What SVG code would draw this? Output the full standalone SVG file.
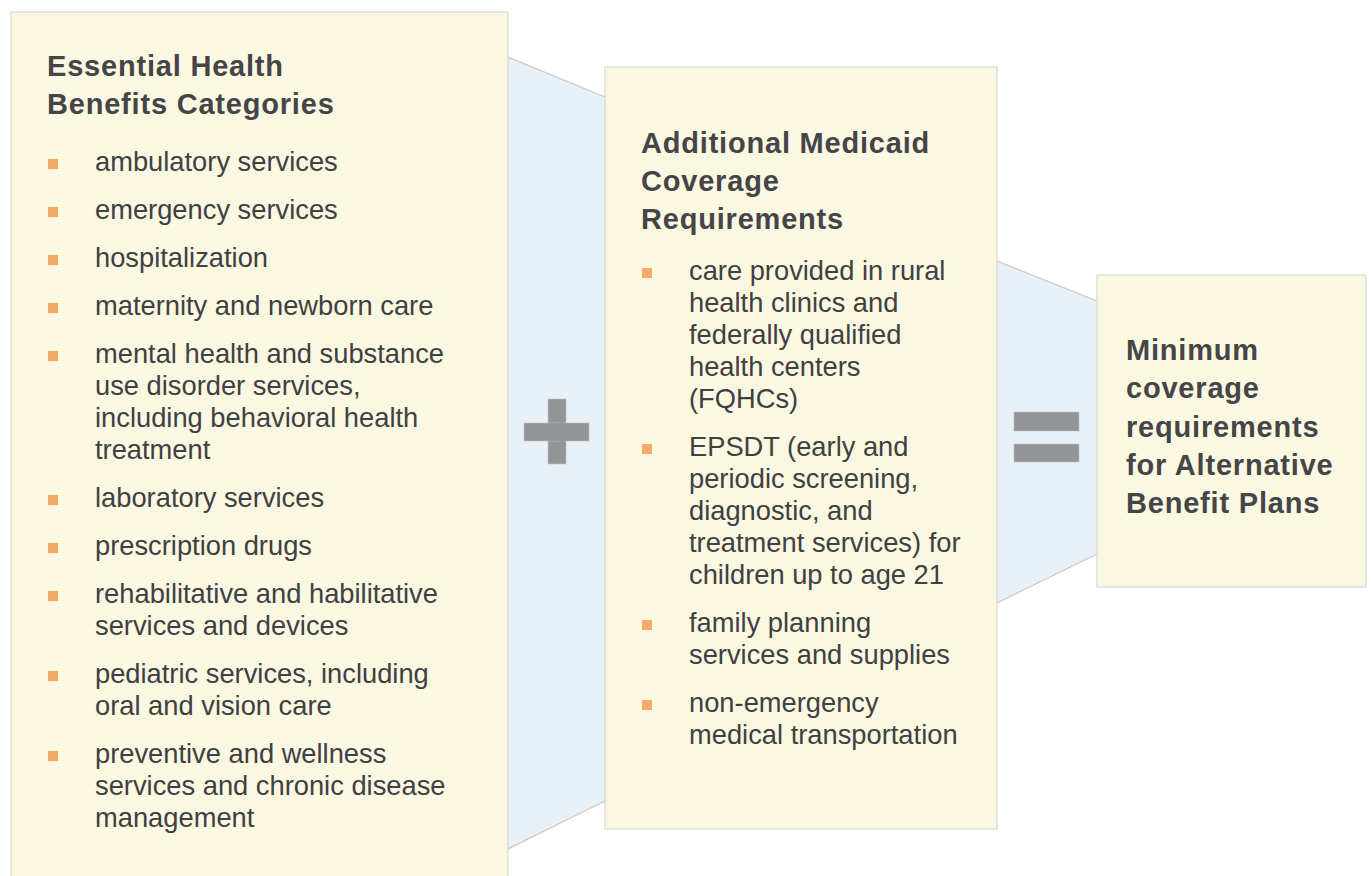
<svg xmlns="http://www.w3.org/2000/svg" width="1371" height="876" viewBox="0 0 1371 876">
<style>
.box{fill:#FBF8E2;stroke:#DAD8CE;stroke-width:1.2}
.band{fill:#E9F1F8;stroke:none}
.edge{stroke:#C6C7C9;stroke-width:1.2;fill:none}
.op{fill:#939598;stroke:#BFC0C3;stroke-width:0.6}
.bul{fill:#F3AB68}
.t{font-family:"Liberation Sans",Arial,Helvetica,sans-serif;fill:#404043}
.h{font-size:29px;font-weight:bold;letter-spacing:0.8px;fill:#454548}
.i{font-size:27.3px}
</style>
<rect width="1371" height="876" fill="#FFFFFF"/>
<g id="connectors">
<polygon class="band" points="508,57 605,97 605,801 508,849"/>
<line class="edge" x1="508" y1="57" x2="605" y2="97"/>
<line class="edge" x1="508" y1="849" x2="605" y2="801"/>
<polygon class="band" points="997,261 1097,301 1097,554 997,603"/>
<line class="edge" x1="997" y1="261" x2="1097" y2="301"/>
<line class="edge" x1="997" y1="603" x2="1097" y2="554"/>
<g id="plus">
<rect class="op" x="548" y="399" width="18" height="65"/>
<rect class="op" x="524" y="423" width="65" height="18"/>
<rect x="548.3" y="423.3" width="17.4" height="17.4" fill="#939598"/>
</g>
<g id="equals">
<rect class="op" x="1014" y="412" width="65" height="19"/>
<rect class="op" x="1014" y="444" width="65" height="18"/>
</g>
</g>
<g id="ehb">
<rect class="box" x="11" y="12" width="497" height="880"/>
<text class="t h" x="47" y="76">Essential Health</text>
<text class="t h" x="47" y="114">Benefits Categories</text>
<g class="bul">
<rect x="48" y="159" width="10" height="10"/>
<rect x="48" y="207" width="10" height="10"/>
<rect x="48" y="255" width="10" height="10"/>
<rect x="48" y="303" width="10" height="10"/>
<rect x="48" y="351" width="10" height="10"/>
<rect x="48" y="495" width="10" height="10"/>
<rect x="48" y="543" width="10" height="10"/>
<rect x="48" y="591" width="10" height="10"/>
<rect x="48" y="671" width="10" height="10"/>
<rect x="48" y="751" width="10" height="10"/>
</g>
<g class="t i">
<text x="95" y="171">ambulatory services</text>
<text x="95" y="219">emergency services</text>
<text x="95" y="267">hospitalization</text>
<text x="95" y="315">maternity and newborn care</text>
<text x="95" y="363">mental health and substance</text>
<text x="95" y="395">use disorder services,</text>
<text x="95" y="427">including behavioral health</text>
<text x="95" y="459">treatment</text>
<text x="95" y="507">laboratory services</text>
<text x="95" y="555">prescription drugs</text>
<text x="95" y="603">rehabilitative and habilitative</text>
<text x="95" y="635">services and devices</text>
<text x="95" y="683">pediatric services, including</text>
<text x="95" y="715">oral and vision care</text>
<text x="95" y="763">preventive and wellness</text>
<text x="95" y="795">services and chronic disease</text>
<text x="95" y="827">management</text>
</g>
</g>
<g id="medicaid">
<rect class="box" x="605" y="67" width="392" height="762"/>
<text class="t h" x="641" y="153">Additional Medicaid</text>
<text class="t h" x="641" y="191">Coverage</text>
<text class="t h" x="641" y="229">Requirements</text>
<g class="bul">
<rect x="642" y="268" width="10" height="10"/>
<rect x="642" y="444" width="10" height="10"/>
<rect x="642" y="620" width="10" height="10"/>
<rect x="642" y="700" width="10" height="10"/>
</g>
<g class="t i">
<text x="689" y="280">care provided in rural</text>
<text x="689" y="312">health clinics and</text>
<text x="689" y="344">federally qualified</text>
<text x="689" y="376">health centers</text>
<text x="689" y="408">(FQHCs)</text>
<text x="689" y="456">EPSDT (early and</text>
<text x="689" y="488">periodic screening,</text>
<text x="689" y="520">diagnostic, and</text>
<text x="689" y="552">treatment services) for</text>
<text x="689" y="584">children up to age 21</text>
<text x="689" y="632">family planning</text>
<text x="689" y="664">services and supplies</text>
<text x="689" y="712">non-emergency</text>
<text x="689" y="744">medical transportation</text>
</g>
</g>
<g id="abp">
<rect class="box" x="1097" y="275" width="269" height="312"/>
<text class="t h" x="1126" y="360">Minimum</text>
<text class="t h" x="1126" y="398">coverage</text>
<text class="t h" x="1126" y="437">requirements</text>
<text class="t h" x="1126" y="475">for Alternative</text>
<text class="t h" x="1126" y="513">Benefit Plans</text>
</g>
</svg>
